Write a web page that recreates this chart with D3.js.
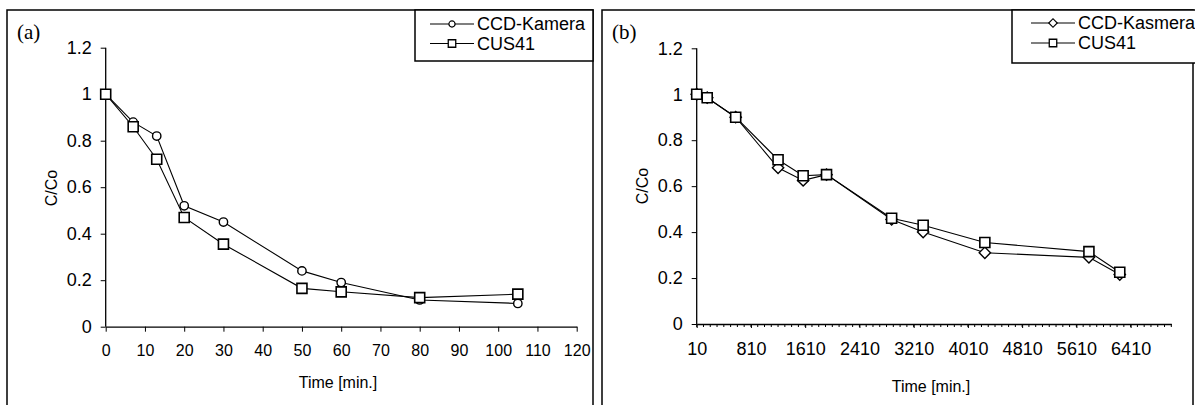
<!DOCTYPE html>
<html>
<head>
<meta charset="utf-8">
<script src="https://cdn.jsdelivr.net/npm/d3@7"></script>
<style>
  body { margin: 0; background: #fff; }
  svg text { font-family: "Liberation Sans", Arial, sans-serif; fill: #000; }
</style>
</head>
<body>
<svg id="chart" width="1195" height="405"></svg>
<script>
// ------------------------- data, panel (a)
var timeA = [0, 7, 13, 20, 30, 50, 60, 80, 105];
var ccdA = [1.0, 0.88, 0.82, 0.52, 0.45, 0.24, 0.19, 0.115, 0.10];
var cusA = [1.0, 0.86, 0.72, 0.47, 0.355, 0.165, 0.15, 0.125, 0.14];
var xTicksA = [0, 10, 20, 30, 40, 50, 60, 70, 80, 90, 100, 110, 120];

// ------------------------- data, panel (b)
var timeB = [10, 165, 585, 1210, 1580, 1925, 2885, 3350, 4260, 5795, 6250];
var ccdB = [1.0, 0.985, 0.90, 0.68, 0.625, 0.65, 0.455, 0.40, 0.31, 0.29, 0.215];
var cusB = [1.0, 0.985, 0.90, 0.715, 0.645, 0.65, 0.46, 0.43, 0.355, 0.315, 0.225];
var xTicksB = [10, 810, 1610, 2410, 3210, 4010, 4810, 5610, 6410];

var yTicks = [0, 0.2, 0.4, 0.6, 0.8, 1, 1.2];

var svg = d3.select("#chart");

function drawPanel(p) {
    var g = svg.append("g");

    // outer frame
    g.append("rect")
        .attr("x", p.frame[0]).attr("y", p.frame[1])
        .attr("width", p.frame[2]).attr("height", p.frame[3])
        .attr("fill", "none").attr("stroke", "#000").attr("stroke-width", 1.5);

    g.append("text")
        .attr("x", p.tag[0]).attr("y", p.tag[1])
        .style("font-family", "'Liberation Serif', 'Times New Roman', serif")
        .style("font-size", "21px")
        .text(p.label);

    var x = d3.scaleLinear().domain(p.xDomain).range(p.xRange);
    var y = d3.scaleLinear().domain([0, 1.2]).range(p.yRange);

    // y axis
    var yAxis = g.append("g")
        .attr("transform", "translate(" + p.xRange[0] + ",0)")
        .call(d3.axisLeft(y).tickValues(yTicks).tickSize(5).tickPadding(9)
            .tickFormat(function(d) { return d3.format("~g")(d); }));
    yAxis.select(".domain").attr("stroke-width", 1.3).attr("d", "M0," + p.yRange[0] + "V" + p.yRange[1]);
    yAxis.selectAll("text").style("font-size", "18px").style("font-family", "'Liberation Sans', Arial, sans-serif");

    // minor ticks on x (panel b)
    if (p.minor) {
        g.append("g")
            .attr("transform", "translate(0," + p.yRange[0] + ")")
            .selectAll("line")
            .data(d3.range(p.xDomain[0], p.xDomain[1] + 1, p.minor))
            .enter().append("line")
            .attr("x1", function(d) { return x(d); })
            .attr("x2", function(d) { return x(d); })
            .attr("y1", 0).attr("y2", 3)
            .attr("stroke", "#000");
    }

    // x axis
    var xAxis = g.append("g")
        .attr("transform", "translate(0," + p.yRange[0] + ")")
        .call(d3.axisBottom(x).tickValues(p.xTicks).tickSize(p.minor ? 4 : 5).tickPadding(p.minor ? 14 : 13)
            .tickSizeOuter(0).tickFormat(d3.format("d")));
    xAxis.select(".domain").attr("stroke-width", 1.3);
    xAxis.selectAll("text").style("font-size", p.xFont).style("font-family", "'Liberation Sans', Arial, sans-serif");

    // axis titles
    g.append("text")
        .attr("x", p.xTitle[0]).attr("y", p.xTitle[1])
        .attr("text-anchor", "middle")
        .style("font-size", "16px")
        .text("Time [min.]");
    g.append("text")
        .attr("transform", "translate(" + p.yTitle[0] + "," + p.yTitle[1] + ") rotate(-90)")
        .attr("text-anchor", "middle")
        .style("font-size", "16px")
        .text("C/Co");

    var line = d3.line()
        .x(function(d) { return x(d[0]); })
        .y(function(d) { return y(d[1]); });

    var ccd = d3.zip(p.time, p.ccd);
    var cus = d3.zip(p.time, p.cus);

    g.append("path").datum(ccd).attr("d", line)
        .attr("fill", "none").attr("stroke", "#000").attr("stroke-width", 1.1);
    g.append("path").datum(cus).attr("d", line)
        .attr("fill", "none").attr("stroke", "#000").attr("stroke-width", 1.1);

    var ccdSymbol = d3.symbol().type(p.ccdShape).size(p.ccdShape === d3.symbolCircle ? 55 : 64);
    var squareSymbol = d3.symbol().type(d3.symbolSquare).size(100);

    g.selectAll(".ccd").data(ccd).enter().append("path")
        .attr("class", "ccd")
        .attr("d", ccdSymbol)
        .attr("transform", function(d) {
            return "translate(" + x(d[0]) + "," + y(d[1]) + ")" + (p.ccdShape === d3.symbolSquare ? " rotate(45)" : "");
        })
        .attr("fill", "#fff").attr("stroke", "#000").attr("stroke-width", 1.4);

    g.selectAll(".cus").data(cus).enter().append("path")
        .attr("class", "cus")
        .attr("d", squareSymbol)
        .attr("transform", function(d) { return "translate(" + x(d[0]) + "," + y(d[1]) + ")"; })
        .attr("fill", "#fff").attr("stroke", "#000").attr("stroke-width", 1.6);

    // legend
    var lg = g.append("g");
    lg.append("rect")
        .attr("x", p.legend[0]).attr("y", p.legend[1])
        .attr("width", p.legend[2]).attr("height", p.legend[3])
        .attr("fill", "#fff").attr("stroke", "#000").attr("stroke-width", 1.5);
    var names = [p.ccdName, "CUS41"];
    names.forEach(function(name, i) {
        var ly = p.legendRow[0] + i * p.legendRow[1];
        var lx = p.legendLine[0];
        lg.append("line")
            .attr("x1", lx).attr("x2", p.legendLine[1])
            .attr("y1", ly).attr("y2", ly)
            .attr("stroke", "#000").attr("stroke-width", 1.2);
        var mx = (lx + p.legendLine[1]) / 2;
        if (i === 0) {
            lg.append("path")
                .attr("d", d3.symbol().type(p.ccdShape).size(p.ccdShape === d3.symbolCircle ? 30 : 36))
                .attr("transform", "translate(" + mx + "," + ly + ")" + (p.ccdShape === d3.symbolSquare ? " rotate(45)" : ""))
                .attr("fill", "#fff").attr("stroke", "#000").attr("stroke-width", 1.2);
        } else {
            lg.append("path")
                .attr("d", d3.symbol().type(d3.symbolSquare).size(56))
                .attr("transform", "translate(" + mx + "," + ly + ")")
                .attr("fill", "#fff").attr("stroke", "#000").attr("stroke-width", 1.3);
        }
        lg.append("text")
            .attr("x", p.legendLine[1] + 3).attr("y", ly)
            .attr("dy", "0.35em")
            .style("font-size", "18px")
            .text(name);
    });
}

drawPanel({
    label: "(a)",
    frame: [7, 10, 586, 420],
    tag: [17, 39],
    xDomain: [0, 120], xRange: [105.7, 576.7],
    yRange: [326.7, 47.7],
    xTicks: xTicksA, xFont: "16px",
    time: timeA, ccd: ccdA, cus: cusA,
    ccdShape: d3.symbolCircle, ccdName: "CCD-Kamera",
    xTitle: [338, 388], yTitle: [57, 188],
    legend: [415, 10, 178, 51], legendRow: [24, 19.5], legendLine: [430, 474]
});

drawPanel({
    label: "(b)",
    frame: [602, 10, 591, 420],
    tag: [612, 39],
    xDomain: [10, 7010], xRange: [696.7, 1171.3],
    yRange: [324, 48.3],
    xTicks: xTicksB, xFont: "18px", minor: 100,
    time: timeB, ccd: ccdB, cus: cusB,
    ccdShape: d3.symbolSquare, ccdName: "CCD-Kasmera",
    xTitle: [931, 392], yTitle: [648, 186],
    legend: [1012, 10, 185, 53], legendRow: [23, 20], legendLine: [1031, 1075]
});
</script>
</body>
</html>
